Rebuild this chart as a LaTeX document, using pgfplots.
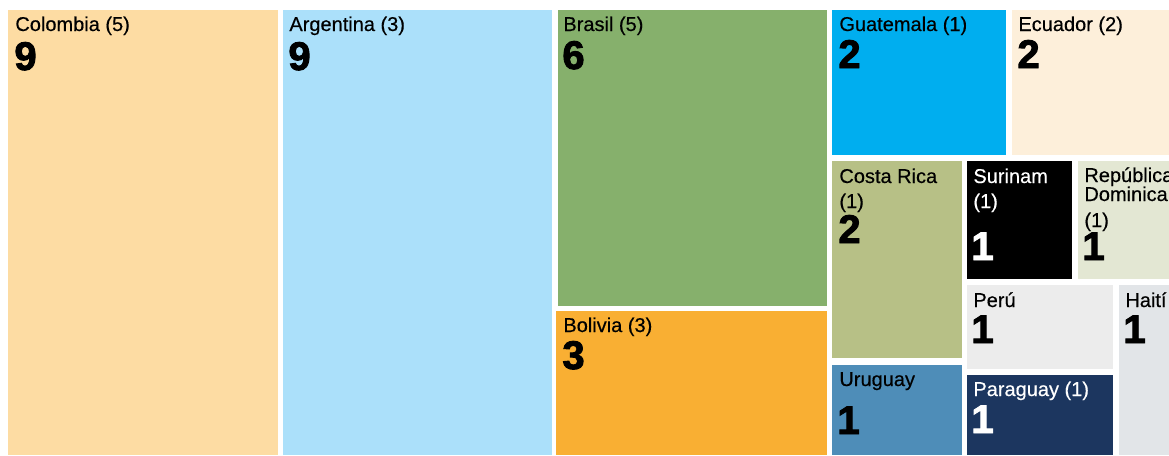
\documentclass[border=0pt]{standalone}
\usepackage{fontspec}
\setmainfont{Liberation Sans}
\newfontfamily\labfont{Liberation Sans}[FakeBold=0.4]
\newfontfamily\numfont{Liberation Sans}[UprightFont=* Bold, FakeBold=2.2]
\usepackage{pgfplots}
\pgfplotsset{compat=1.18}
\definecolor{cColombia}{HTML}{FDDCA3}
\definecolor{cArgentina}{HTML}{ABE0FA}
\definecolor{cBrasil}{HTML}{86B06C}
\definecolor{cBolivia}{HTML}{F9AF33}
\definecolor{cGuatemala}{HTML}{00AEEF}
\definecolor{cEcuador}{HTML}{FDEFDA}
\definecolor{cCosta}{HTML}{B7C086}
\definecolor{cSurinam}{HTML}{000000}
\definecolor{cRD}{HTML}{E3E7D3}
\definecolor{cPeru}{HTML}{ECECEC}
\definecolor{cHaiti}{HTML}{E2E5E8}
\definecolor{cUruguay}{HTML}{4E8DB8}
\definecolor{cParaguay}{HTML}{1C365F}
\newcommand{\tile}[5]{\addplot[fill=#5, draw=none] coordinates {(#1,#2) (#3,#2) (#3,#4) (#1,#4)} --cycle;}
\newcommand{\lab}[4][black]{\node[anchor=base west, inner sep=0pt, text=#1, font=\labfont\fontsize{10}{12}\selectfont] at (axis cs:#2,#3) {#4};}
\newcommand{\num}[4][black]{\node[anchor=base west, inner sep=0pt, text=#1, font=\numfont\fontsize{20}{24}\selectfont] at (axis cs:#2,#3) {#4};}
\begin{document}
\begin{tikzpicture}
\begin{axis}[
  scale only axis, width=584.5pt, height=227.5pt,
  xmin=0, xmax=1169, ymin=0, ymax=455, y dir=reverse,
  hide axis,
]
\tile{0}{0}{1169}{455}{white}
\tile{8}{10}{278}{455}{cColombia}
\tile{283}{10}{552}{455}{cArgentina}
\tile{558}{10}{827}{306}{cBrasil}
\tile{556}{311}{827}{455}{cBolivia}
\tile{832}{10}{1006}{155}{cGuatemala}
\tile{1012}{10}{1169}{155}{cEcuador}
\tile{832}{161}{962}{358}{cCosta}
\tile{832}{365}{962}{455}{cUruguay}
\tile{967}{161}{1072}{279}{cSurinam}
\tile{1078}{161}{1169}{279}{cRD}
\tile{967}{285}{1113}{369}{cPeru}
\tile{967}{375}{1113}{455}{cParaguay}
\tile{1119}{285}{1169}{455}{cHaiti}
% labels
\lab{15}{31}{Colombia (5)}
\num{14}{70}{9}
\lab{289}{31}{Argentina (3)}
\num{288}{70}{9}
\lab{563}{31}{Brasil (5)}
\num{562}{69}{6}
\lab{563}{332}{Bolivia (3)}
\num{562}{369}{3}
\lab{839}{31}{Guatemala (1)}
\num{838}{68}{2}
\lab{1018}{31}{Ecuador (2)}
\num{1017}{68}{2}
\lab{839}{183}{Costa Rica}
\lab{839}{208}{(1)}
\num{838}{243}{2}
\lab[white]{973}{183}{Surinam}
\lab[white]{973}{208}{(1)}
\num[white]{971}{260}{1}
\lab{1084}{182}{República}
\lab{1084}{201}{Dominicana}
\lab{1084}{227}{(1)}
\num{1082}{260}{1}
\lab{973}{307}{Perú}
\num{971}{343}{1}
\lab{1125}{307}{Haití}
\num{1123}{343}{1}
\lab{839}{386}{Uruguay}
\num{837}{434}{1}
\lab[white]{973}{396}{Paraguay (1)}
\num[white]{971}{433}{1}
\end{axis}
\end{tikzpicture}
\end{document}
